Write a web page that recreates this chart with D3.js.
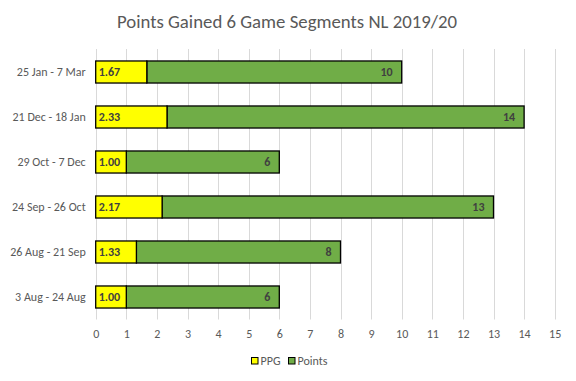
<!DOCTYPE html>
<html><head><meta charset="utf-8">
<script src="https://cdn.jsdelivr.net/npm/d3@7"></script>
<style>body{margin:0;background:#fff}svg{display:block}text{font-family:Carlito,Lato,"Open Sans",sans-serif}</style>
</head><body><svg id="c" width="576" height="381"></svg>
<script>
const categories = ["25 Jan - 7 Mar","21 Dec - 18 Jan","29 Oct - 7 Dec","24 Sep - 26 Oct","26 Aug - 21 Sep","3 Aug - 24 Aug"];
const ppg = [1.67, 2.33, 1.00, 2.17, 1.33, 1.00];
const points = [10, 14, 6, 13, 8, 6];
const ticks = [0,1,2,3,4,5,6,7,8,9,10,11,12,13,14,15];
const seriesNames = ["PPG","Points"];
const colors = {PPG:"#ffff00", Points:"#70ad47"};

const svg = d3.select("#c");
const x = d3.scaleLinear().domain([0,15]).range([95.7,554.7]);
const y = d3.scaleBand().domain(categories).range([49.5,319.5]).paddingInner(0.51).paddingOuter(0.255);

svg.append("text").attr("x",287).attr("y",28).attr("text-anchor","middle")
  .attr("font-size",18.8).attr("fill","#595959").text("Points Gained 6 Game Segments NL 2019/20");

// gridlines
svg.append("g").selectAll("line").data(ticks).join("line")
  .attr("x1",d=>Math.round(x(d))+0.5).attr("x2",d=>Math.round(x(d))+0.5)
  .attr("y1",49).attr("y2",319.5).attr("stroke","#d9d9d9").attr("stroke-width",1);

// axis
const ax = svg.append("g").attr("transform","translate(0,319.5)")
  .call(d3.axisBottom(x).tickValues(ticks).tickSize(0).tickPadding(10).tickFormat(d3.format("d")));
ax.select(".domain").remove();
ax.selectAll("text").attr("font-size",12).attr("fill","#595959").attr("font-family","Carlito,Lato,sans-serif");

// category labels
const ay = svg.append("g").attr("transform","translate(95.7,0)")
  .call(d3.axisLeft(y).tickSize(0).tickPadding(10));
ay.select(".domain").remove();
ay.selectAll("text").attr("font-size",12).attr("fill","#595959").attr("font-family","Carlito,Lato,sans-serif");

const rows = categories.map((c,i)=>({c, ppg:ppg[i], pts:points[i]}));
const g = svg.append("g");
g.selectAll("rect.pts").data(rows).join("rect").attr("class","pts")
  .attr("x",d=>x(d.ppg)).attr("y",d=>y(d.c)).attr("width",d=>x(d.pts)-x(d.ppg)).attr("height",y.bandwidth())
  .attr("fill",colors.Points).attr("stroke","#000").attr("stroke-width",1.3);
g.selectAll("rect.ppg").data(rows).join("rect").attr("class","ppg")
  .attr("x",x(0)).attr("y",d=>y(d.c)).attr("width",d=>x(d.ppg)-x(0)).attr("height",y.bandwidth())
  .attr("fill",colors.PPG).attr("stroke","#000").attr("stroke-width",1.3);

g.selectAll("text.pl").data(rows).join("text").attr("class","pl")
  .attr("x",x(0)+3).attr("y",d=>y(d.c)+y.bandwidth()/2+4).attr("font-size",12).attr("font-weight","bold")
  .attr("fill","#404040").text(d=>d.ppg.toFixed(2));
g.selectAll("text.tl").data(rows).join("text").attr("class","tl")
  .attr("x",d=>x(d.pts)-9).attr("y",d=>y(d.c)+y.bandwidth()/2+4).attr("text-anchor","end").attr("font-size",12).attr("font-weight","bold")
  .attr("fill","#404040").text(d=>d.pts);

// legend
const lg = svg.append("g");
const legX = [251.5, 288.5];
seriesNames.forEach((n,i)=>{
  lg.append("rect").attr("x",legX[i]).attr("y",357.5).attr("width",6.5).attr("height",6.5)
    .attr("fill",colors[n]).attr("stroke","#000").attr("stroke-width",1);
  lg.append("text").attr("x",legX[i]+9).attr("y",365).attr("font-size",12).attr("fill","#595959").text(n);
});
</script></body></html>
